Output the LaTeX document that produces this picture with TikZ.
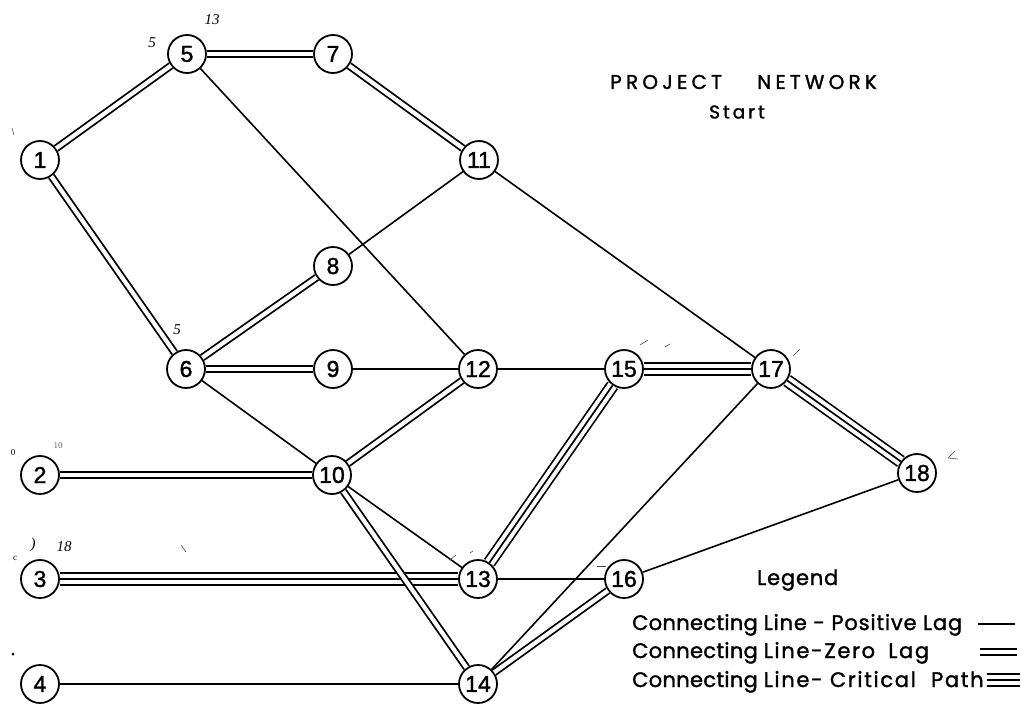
\documentclass[tikz,border=0pt]{standalone}
\usepackage{fontspec}
\setmainfont{Poppins}[FakeBold=1.5]
\newfontfamily\titlefont{Poppins}[FakeBold=1.5, LetterSpace=21]
\newfontfamily\startfont{Poppins}[FakeBold=1.5, LetterSpace=16]
\newfontfamily\legendfont{Poppins}[FakeBold=1.5, LetterSpace=1.5]
\newfontfamily\legendwide{Poppins}[FakeBold=1.5, LetterSpace=4]
\newfontfamily\legendwider{Poppins}[FakeBold=1.5, LetterSpace=8]
\newfontfamily\numfont{Liberation Sans}[FakeBold=1.5]
\newfontfamily\handfont{Liberation Serif}
\usetikzlibrary{calc}

% a word set in a box of fixed width, for evenly placed lettering
\newcommand\legword[2]{\makebox[#1][l]{#2}}

\tikzset{
  event/.style={circle, draw, line width=1.8pt, minimum size=38pt, inner sep=0pt,
    font=\numfont\fontsize{23}{23}\selectfont},
  poslag/.style={line width=1.6pt},
  zerolag/.style={line width=1.8pt, double, double distance=4.2pt},
  critouter/.style={line width=1.7pt, double, double distance=9.7pt},
  critinner/.style={line width=1.7pt},
  hand/.style={font=\handfont\itshape\fontsize{15}{15}\selectfont, inner sep=0pt},
  tick/.style={line width=0.6pt, black!70},
  legendtext/.style={anchor=base west, inner sep=0pt, font=\legendfont\fontsize{21}{21}\selectfont},
}

\begin{document}
\begin{tikzpicture}[x=1pt, y=-1pt]
\useasboundingbox (0,0) rectangle (1028,715);

% events
\node[event] (n1)  at (40,160)  {1};
\node[event] (n5)  at (187,54)  {5};
\node[event] (n7)  at (333,54)  {7};
\node[event] (n11) at (479,160) {11};
\node[event] (n8)  at (333,266) {8};
\node[event] (n6)  at (186,369) {6};
\node[event] (n9)  at (333,369) {9};
\node[event] (n12) at (478,369) {12};
\node[event] (n15) at (624,369) {15};
\node[event] (n17) at (771,369) {17};
\node[event] (n18) at (917,473) {18};
\node[event] (n2)  at (40,475)  {2};
\node[event] (n10) at (332,475) {10};
\node[event] (n3)  at (40,579)  {3};
\node[event] (n13) at (478,579) {13};
\node[event] (n16) at (624,579) {16};
\node[event] (n4)  at (40,684)  {4};
\node[event] (n14) at (478,684) {14};

% positive lag
\foreach \a/\b in {n5/n12, n11/n8, n11/n17, n9/n12, n6/n10, n12/n15,
                   n10/n13, n13/n16, n16/n18, n17/n14, n4/n14}
  \draw[poslag] (\a) -- (\b);

% critical path
\foreach \a/\b in {n15/n17, n17/n18, n15/n13, n3/n13}{
  \draw[critouter] (\a) -- (\b);
  \draw[critinner] (\a) -- (\b);
}

% zero lag
\foreach \a/\b in {n1/n5, n5/n7, n7/n11, n1/n6, n6/n8, n6/n9,
                   n2/n10, n10/n12, n10/n14, n16/n14}
  \draw[zerolag] (\a) -- (\b);

% title
\node[font=\titlefont\fontsize{20}{20}\selectfont, anchor=west, inner sep=0pt] (title) at (610,82)
  {\legword{147pt}{PROJECT}NETWORK};
\node[font=\startfont\fontsize{18.5}{18.5}\selectfont] (start) at (737,112) {Start};

% legend
\node[font=\legendwide\fontsize{21}{21}\selectfont, anchor=base west, inner sep=0pt] (legend) at (757,585) {Legend};
\node[legendtext] (l1) at (632,630)
  {Connecting {\legendwide Line - Positive Lag}};
\node[legendtext] (l2) at (632,658)
  {Connecting {\legendwider Line-Zero\hspace{6pt} Lag}};
\node[legendtext] (l3) at (632,687)
  {Connecting {\legendwider Line- Critical\hspace{8pt} Path}};
\coordinate (s1a) at (978,624);  \coordinate (s1b) at (1015,624);
\coordinate (s2a) at (980,652);  \coordinate (s2b) at (1017,652);
\coordinate (s3a) at (987,680);  \coordinate (s3b) at (1020,680);
\draw[poslag] (s1a) -- (s1b);
\draw[zerolag] (s2a) -- (s2b);
\draw[critouter] (s3a) -- (s3b);
\draw[critinner] (s3a) -- (s3b);

% pencilled notes
\node[hand] (h5)  at (152,43)  {5};
\node[hand] (h13) at (212,20)  {13};
\node[hand] (h6)  at (177,330) {5};
\node[hand, font=\handfont\fontsize{9}{9}\selectfont] (h2a) at (13,453) {0};
\node[hand, font=\handfont\fontsize{9}{9}\selectfont, black!60] (h2b) at (58,446) {10};
\node[hand, font=\handfont\fontsize{9}{9}\selectfont] (h3a) at (15,558) {c};
\node[hand] (h3b) at (33,545) {)};
\node[hand] (h3c) at (64,547) {18};
\fill (13,654) circle (1.5pt);
\draw[tick] (12,128) -- (14,135);
\draw[tick] (181,545) -- (186,552);
\draw[tick] (640,345) -- (648,340);
\draw[tick] (665,347) -- (670,344);
\draw[tick] (793,356) -- (800,349);
\draw[tick] (948,458) -- (955,451) (948,458) -- (958,459);
\draw[tick] (597,566) -- (606,566);
\draw[tick] (450,560) -- (456,555) (470,553) -- (473,551);
\end{tikzpicture}
\end{document}
